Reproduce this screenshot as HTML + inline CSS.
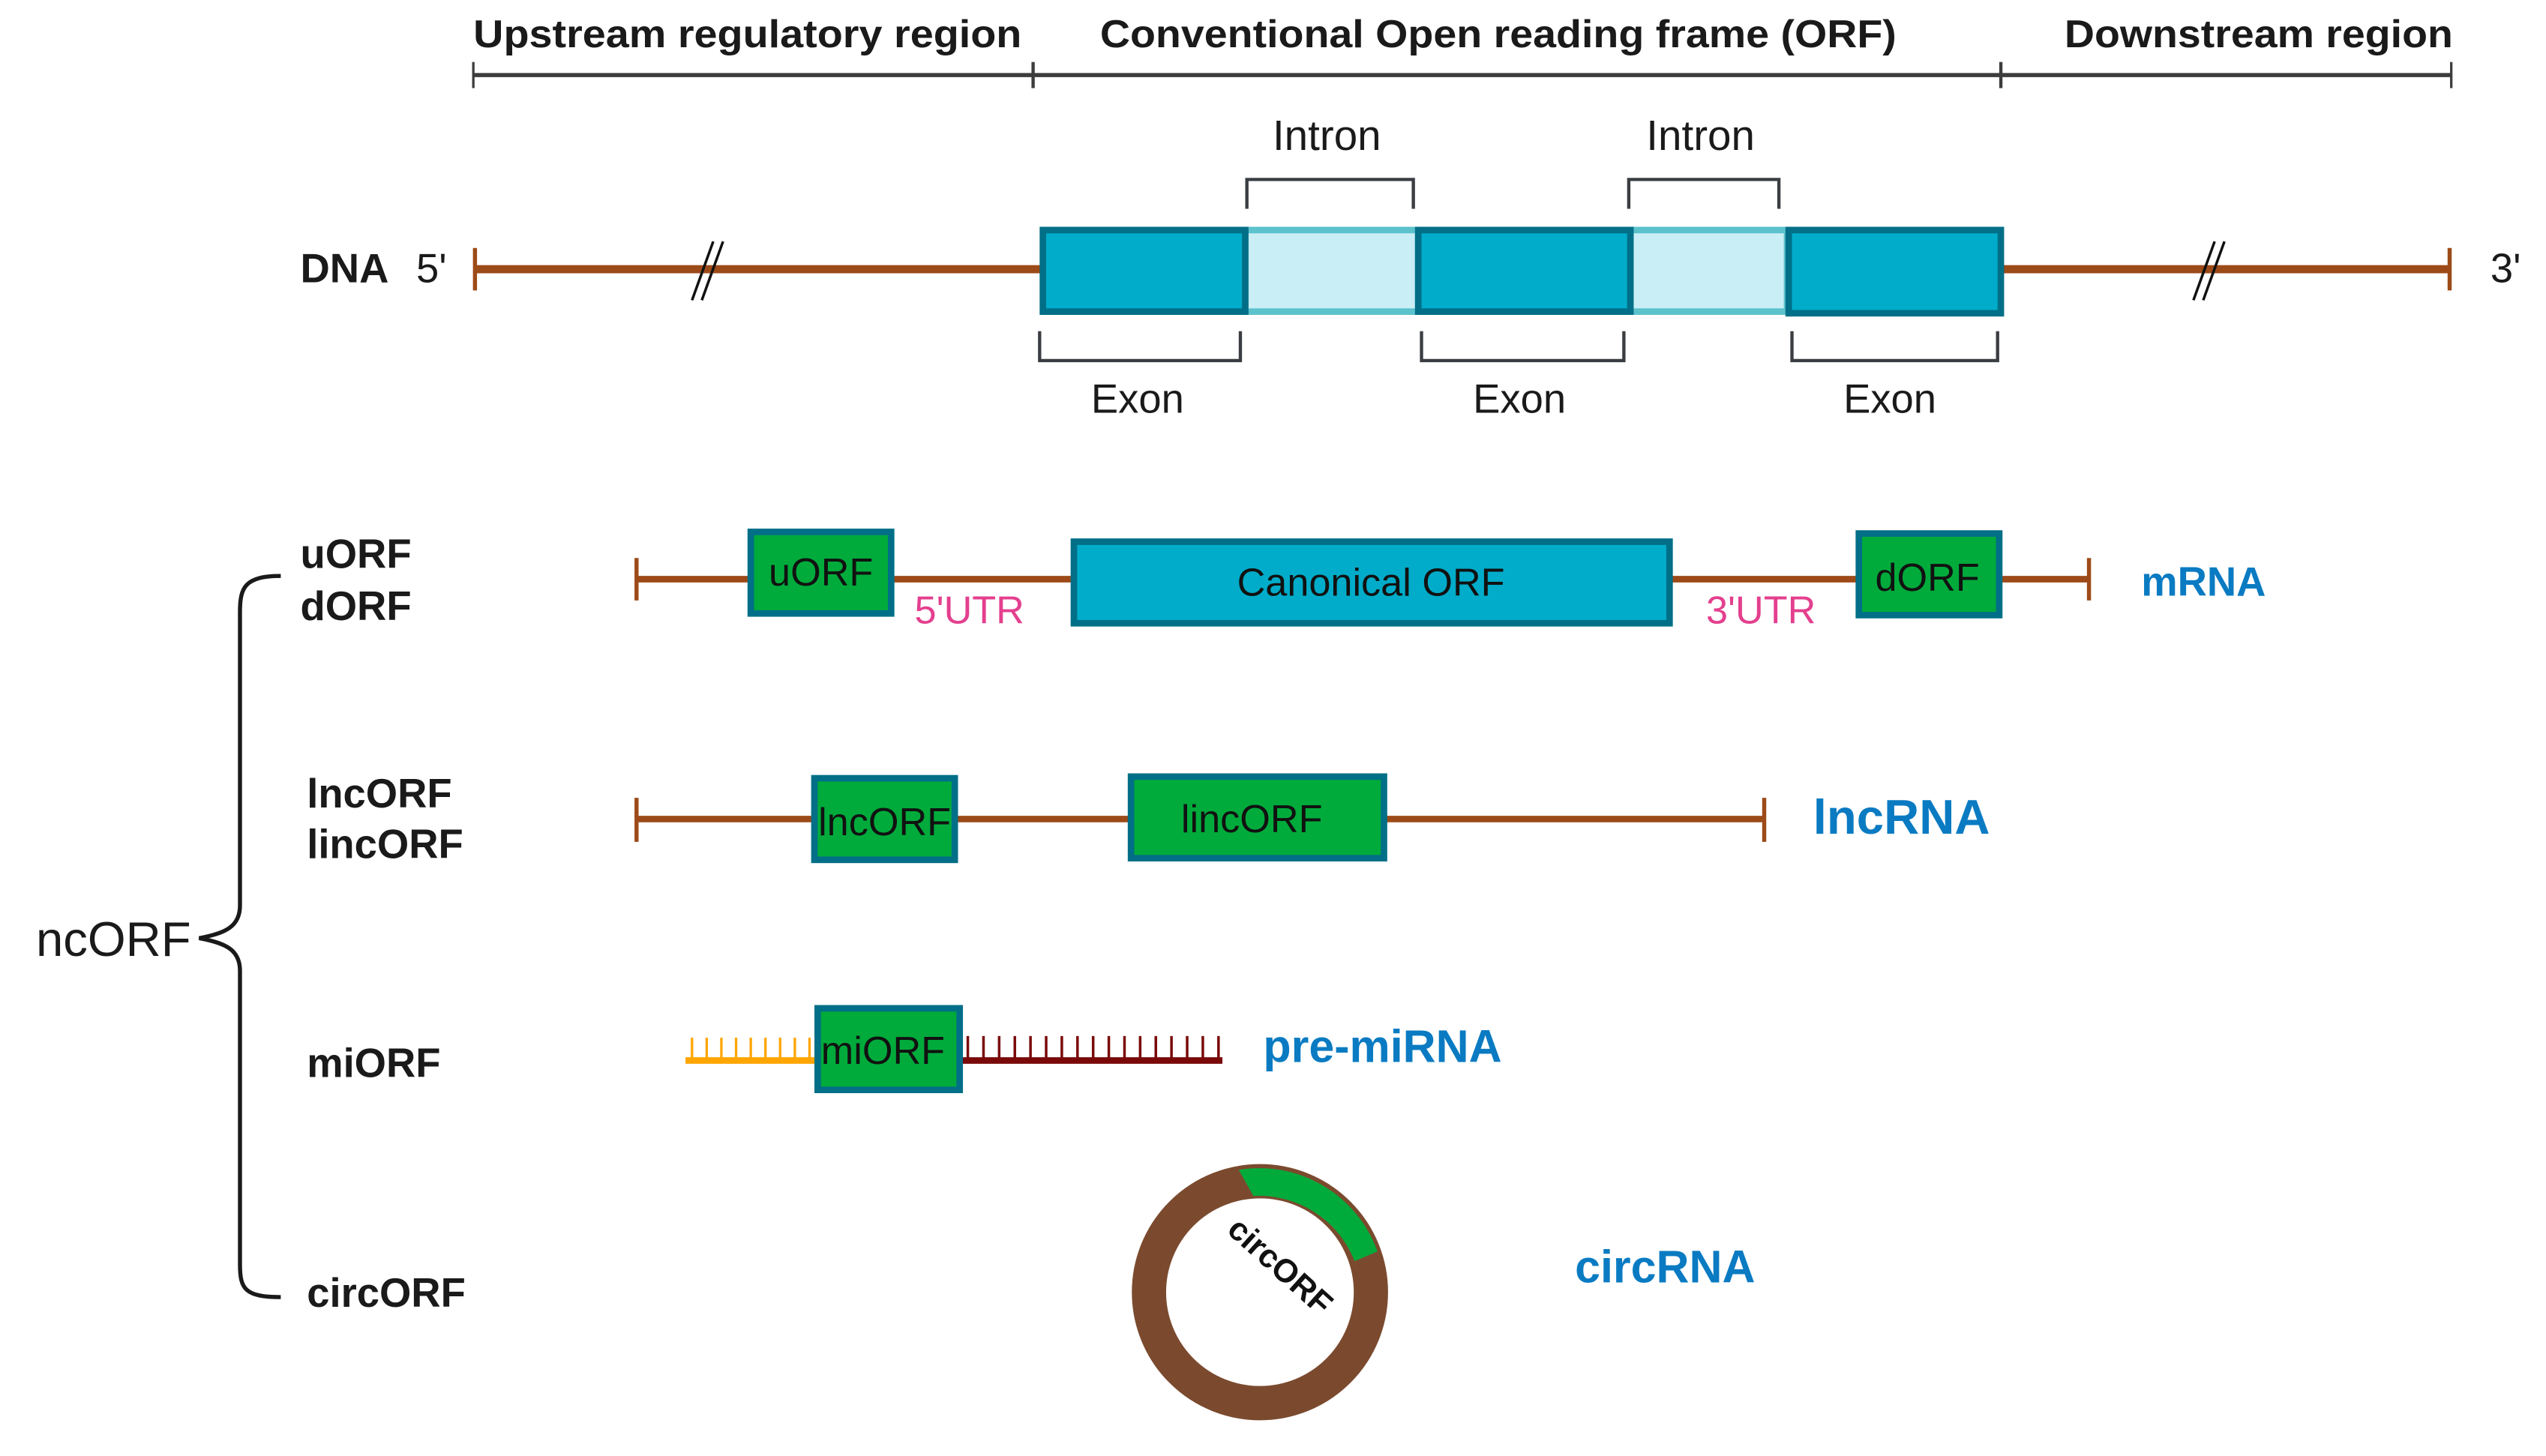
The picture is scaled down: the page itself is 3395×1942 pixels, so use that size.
<!DOCTYPE html>
<html><head><meta charset="utf-8"><style>
html,body{margin:0;padding:0;background:#fff;}
svg{display:block;}
text{font-family:"Liberation Sans",sans-serif;}
</style></head><body>
<svg width="3395" height="1942" viewBox="0 0 1560 892.4" xmlns="http://www.w3.org/2000/svg">
<!-- header -->
<g font-weight="bold" font-size="24" fill="#1a1a1a">
<text x="290" y="29" textLength="336" lengthAdjust="spacingAndGlyphs">Upstream regulatory region</text>
<text x="674" y="29" textLength="488" lengthAdjust="spacingAndGlyphs">Conventional Open reading frame (ORF)</text>
<text x="1265" y="29" textLength="238" lengthAdjust="spacingAndGlyphs">Downstream region</text>
</g>
<g stroke="#3c3c3c">
<line x1="290" y1="46" x2="1502" y2="46" stroke-width="2.5"/>
<line x1="290" y1="38" x2="290" y2="54" stroke-width="1.5"/>
<line x1="633" y1="38" x2="633" y2="54" stroke-width="2"/>
<line x1="1226" y1="38" x2="1226" y2="54" stroke-width="2"/>
<line x1="1502" y1="38" x2="1502" y2="54" stroke-width="1.5"/>
</g>
<!-- intron labels & brackets -->
<g fill="#1a1a1a" text-anchor="middle">
<text x="813" y="92" font-size="26">Intron</text>
<text x="1042" y="92" font-size="26">Intron</text>
<text x="697" y="253" font-size="25">Exon</text>
<text x="931" y="253" font-size="25">Exon</text>
<text x="1158" y="253" font-size="25">Exon</text>
</g>
<g fill="none" stroke="#3a3d42" stroke-width="2">
<path d="M764,128 V110 H866 V128"/>
<path d="M998,128 V110 H1090 V128"/>
<path d="M637,203 V221 H760 V203"/>
<path d="M871,203 V221 H995 V203"/>
<path d="M1098,203 V221 H1224 V203"/>
</g>
<!-- DNA -->
<text x="184" y="173" font-size="25" font-weight="bold" fill="#1a1a1a">DNA</text>
<text x="255" y="173" font-size="25" fill="#1a1a1a">5'</text>
<text x="1526" y="173" font-size="25" fill="#1a1a1a">3'</text>
<line x1="291" y1="165" x2="1501" y2="165" stroke="#9c4a18" stroke-width="5"/>
<line x1="291" y1="152" x2="291" y2="178" stroke="#9c4a18" stroke-width="2.5"/>
<line x1="1501" y1="152" x2="1501" y2="178" stroke="#9c4a18" stroke-width="2.5"/>
<g stroke="#111" stroke-width="1.6">
<line x1="424" y1="184" x2="437" y2="148"/><line x1="430" y1="184" x2="443" y2="148"/>
<line x1="1344" y1="184" x2="1357" y2="148"/><line x1="1350" y1="184" x2="1363" y2="148"/>
</g>
<g stroke-width="4">
<rect x="763" y="141" width="106" height="50" fill="#c9eef5" stroke="#5cc2cc"/>
<rect x="999" y="141" width="96" height="50" fill="#c9eef5" stroke="#5cc2cc"/>
<rect x="639" y="141" width="124" height="50" fill="#00acc9" stroke="#006f87"/>
<rect x="869" y="141" width="130" height="50" fill="#00acc9" stroke="#006f87"/>
<rect x="1096" y="141" width="130" height="51" fill="#00acc9" stroke="#006f87"/>
</g>
<!-- left labels -->
<g font-size="25" font-weight="bold" fill="#1a1a1a">
<text x="184" y="348">uORF</text>
<text x="184" y="380">dORF</text>
<text x="188" y="495">lncORF</text>
<text x="188" y="526">lincORF</text>
<text x="188" y="660">miORF</text>
<text x="188" y="801">circORF</text>
</g>
<text x="22" y="586" font-size="30" fill="#1a1a1a">ncORF</text>
<path d="M172,353 C150,353 147,360 147,375 V555 C147,568 138,572 122,575 C138,578 147,582 147,595 V775 C147,790 150,795 172,795" fill="none" stroke="#1a1a1a" stroke-width="2.5"/>
<!-- lines -->
<line x1="390" y1="355" x2="1280" y2="355" stroke="#9c4a18" stroke-width="4"/>
<line x1="390" y1="342" x2="390" y2="368" stroke="#9c4a18" stroke-width="2.5"/>
<line x1="1280" y1="342" x2="1280" y2="368" stroke="#9c4a18" stroke-width="2.5"/>
<line x1="390" y1="502" x2="1081" y2="502" stroke="#9c4a18" stroke-width="4"/>
<line x1="390" y1="489" x2="390" y2="516" stroke="#9c4a18" stroke-width="2.5"/>
<line x1="1081" y1="489" x2="1081" y2="516" stroke="#9c4a18" stroke-width="2.5"/>
<g stroke="#006f87" stroke-width="4">
<rect x="460" y="326" width="86" height="50" fill="#00ab3b"/>
<rect x="658" y="332" width="365" height="50" fill="#00acc9"/>
<rect x="1139" y="327" width="86" height="50" fill="#00ab3b"/>
<rect x="499" y="477" width="86" height="50" fill="#00ab3b"/>
<rect x="693" y="476" width="155" height="50" fill="#00ab3b"/>
</g>
<g font-size="24" fill="#111" text-anchor="middle">
<text x="503" y="359">uORF</text>
<text x="840" y="365">Canonical ORF</text>
<text x="1181" y="362">dORF</text>
<text x="542" y="512">lncORF</text>
<text x="767" y="510">lincORF</text>
</g>
<g font-size="24" fill="#e43f8e" text-anchor="middle">
<text x="594" y="382">5'UTR</text>
<text x="1079" y="382">3'UTR</text>
</g>
<g font-weight="bold" fill="#0a7bc2">
<text x="1312" y="365" font-size="25">mRNA</text>
<text x="1111" y="511" font-size="30">lncRNA</text>
<text x="774" y="651" font-size="28">pre-miRNA</text>
<text x="965" y="786" font-size="28">circRNA</text>
</g>
<!-- pre-miRNA -->
<line x1="420" y1="650" x2="500" y2="650" stroke="#ffa500" stroke-width="4"/>
<g stroke="#ffa500" stroke-width="1.5">
<line x1="424" y1="650" x2="424" y2="636"/><line x1="433" y1="650" x2="433" y2="636"/><line x1="442" y1="650" x2="442" y2="636"/><line x1="451" y1="650" x2="451" y2="636"/><line x1="460" y1="650" x2="460" y2="636"/><line x1="469" y1="650" x2="469" y2="636"/><line x1="478" y1="650" x2="478" y2="636"/><line x1="487" y1="650" x2="487" y2="636"/><line x1="496" y1="650" x2="496" y2="636"/>
</g>
<line x1="589" y1="650" x2="749" y2="650" stroke="#7a0a0a" stroke-width="4"/>
<g stroke="#7a0a0a" stroke-width="1.6">
<line x1="593" y1="650" x2="593" y2="635"/><line x1="602.6" y1="650" x2="602.6" y2="635"/><line x1="612.2" y1="650" x2="612.2" y2="635"/><line x1="621.8" y1="650" x2="621.8" y2="635"/><line x1="631.4" y1="650" x2="631.4" y2="635"/><line x1="641" y1="650" x2="641" y2="635"/><line x1="650.6" y1="650" x2="650.6" y2="635"/><line x1="660.2" y1="650" x2="660.2" y2="635"/><line x1="669.8" y1="650" x2="669.8" y2="635"/><line x1="679.4" y1="650" x2="679.4" y2="635"/><line x1="689" y1="650" x2="689" y2="635"/><line x1="698.6" y1="650" x2="698.6" y2="635"/><line x1="708.2" y1="650" x2="708.2" y2="635"/><line x1="717.8" y1="650" x2="717.8" y2="635"/><line x1="727.4" y1="650" x2="727.4" y2="635"/><line x1="737" y1="650" x2="737" y2="635"/><line x1="746.6" y1="650" x2="746.6" y2="635"/>
</g>
<rect x="501" y="618" width="87" height="50" fill="#00ab3b" stroke="#006f87" stroke-width="4"/>
<text x="541" y="652" font-size="24" fill="#111" text-anchor="middle">miORF</text>
<!-- circRNA -->
<circle cx="772" cy="792" r="68" fill="none" stroke="#7b4a2e" stroke-width="21"/>
<path d="M759,717 A77,77 0 0 1 844,767 L830,773 A63,63 0 0 0 768,733 Z" fill="#00ab3b"/>
<text x="0" y="0" font-size="20" font-weight="bold" fill="#111" transform="translate(751,755) rotate(42)">circORF</text>
</svg>
</body></html>
